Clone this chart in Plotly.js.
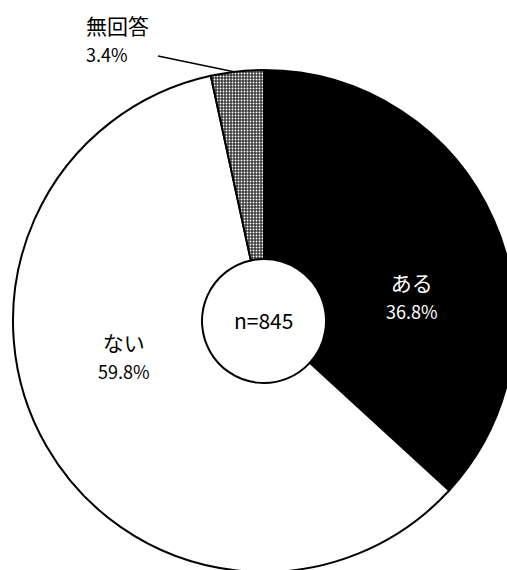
<!DOCTYPE html>
<html>
<head>
<meta charset="utf-8">
<script src="https://cdn.plot.ly/plotly-3.0.1.min.js"></script>
<style>
html, body { margin: 0; padding: 0; overflow: hidden; background: #fff; }
#chart { width: 530px; height: 600px; }
</style>
</head>
<body>
<div id="chart"></div>
<script>
// Data
const categories = ["ある", "ない", "無回答"];
const values = [36.8, 59.8, 3.4];
const sampleLabel = "n=845";

const W = 530, H = 600;
const px = (x) => x / W;
const py = (y) => 1 - y / H;
const FONT = '"Noto Sans CJK JP", "Noto Sans", sans-serif';

const trace = {
  type: "pie",
  labels: categories,
  values: values,
  sort: false,
  direction: "clockwise",
  rotation: 0,
  hole: 0.247,
  textinfo: "none",
  hoverinfo: "label+percent",
  showlegend: false,
  domain: { x: [px(13), px(515)], y: [py(572), py(70)] },
  marker: {
    colors: ["#000000", "#ffffff", "#7a7a7a"],
    line: { color: "#000000", width: 2 },
    pattern: {
      shape: ["", "", "."],
      fgcolor: "#ffffff",
      bgcolor: "#3a3a3a",
      size: 3,
      solidity: 0.3
    }
  }
};

const fmt = (v) => v.toFixed(1) + "%";
const lbl = (c, v) => '<span style="font-size:21px">' + c + '</span><br>' +
  '<span style="font-size:18px">' + fmt(v) + '</span>';

const annotations = [
  { x: px(412), y: py(295), text: lbl(categories[0], values[0]),
    font: { family: FONT, size: 21.5, color: "#ffffff" } },
  { x: px(124), y: py(355), text: lbl(categories[1], values[1]),
    font: { family: FONT, size: 21.5, color: "#000000" } },
  { x: px(84), y: py(38), xanchor: "left", align: "left",
    text: lbl(categories[2], values[2]),
    font: { family: FONT, size: 21.5, color: "#000000" } },
  { x: px(263), y: py(320), text: sampleLabel,
    font: { family: FONT, size: 21, color: "#000000" } }
].map(a => Object.assign({ xref: "paper", yref: "paper", showarrow: false,
  xanchor: "center", yanchor: "middle", align: "center" }, a));

const layout = {
  width: W,
  height: H,
  margin: { l: 0, r: 0, t: 0, b: 0, pad: 0 },
  paper_bgcolor: "#ffffff",
  plot_bgcolor: "#ffffff",
  font: { family: FONT, color: "#000000" },
  annotations: annotations,
  shapes: [
    { type: "line", xref: "paper", yref: "paper",
      x0: px(158), y0: py(56), x1: px(235), y1: py(72),
      line: { color: "#000000", width: 1.5 } }
  ]
};

Plotly.newPlot("chart", [trace], layout, { displayModeBar: false, staticPlot: true });
</script>
</body>
</html>
